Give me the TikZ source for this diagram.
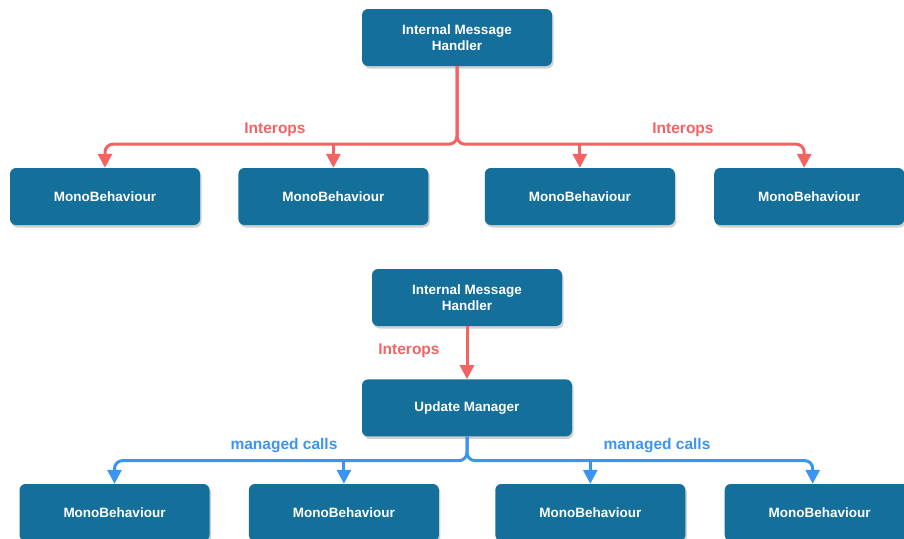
\documentclass[tikz,border=0pt]{standalone}
\usepackage{fontspec}
\setmainfont{Liberation Sans}
\usepackage{xcolor}
\usetikzlibrary{arrows.meta, positioning, shadows}

\definecolor{boxblue}{RGB}{20,111,155}
\definecolor{interred}{RGB}{243,99,99}
\definecolor{callblue}{RGB}{58,148,242}

\begin{document}
\begin{tikzpicture}[
    x=1pt, y=-1pt,
    block/.style={rectangle, rounded corners=6pt, fill=boxblue, text=white, align=center,
        minimum width=190pt, minimum height=57pt, inner sep=0pt,
        font=\fontsize{13.5}{16}\selectfont\bfseries,
        drop shadow={shadow xshift=1.5pt, shadow yshift=-2.5pt, fill=black!30, opacity=0.6}},
    lbl/.style={font=\fontsize{15.5}{18}\selectfont\bfseries},
    redlink/.style={interred, line width=3pt, rounded corners=8pt,
        -{Triangle[width=14pt, length=14pt]}},
    bluelink/.style={callblue, line width=3pt, rounded corners=8pt,
        -{Triangle[width=14pt, length=14pt]}}
]
\useasboundingbox (0,0) rectangle (904,538);

% Upper part: direct interop calls
\node[block] (ih1) at (457,37.5) {Internal Message\\Handler};
\node[block] (m1) at (105,196.5) {MonoBehaviour};
\node[block, right=38pt of m1] (m2) {MonoBehaviour};
\node[block, right=56pt of m2] (m3) {MonoBehaviour};
\node[block, right=39pt of m3] (m4) {MonoBehaviour};

\path (ih1.south) ++(0,78) coordinate (bus1);

\draw[redlink] (ih1.south) -- (bus1) -| (m1.north);
\draw[redlink] (ih1.south) -- (bus1) -| ([xshift=-5pt]m4.north);
\draw[redlink] (m2.north |- bus1) -- (m2.north);
\draw[redlink] (m3.north |- bus1) -- (m3.north);

\node[lbl, text=interred] (lbl1) at (275,130) {Interops};
\node[lbl, text=interred] (lbl2) at (683,130) {Interops};

% Lower part: through the update manager
\node[block] (ih2) at (467,297.5) {Internal Message\\Handler};
\node[block, minimum width=210pt, below=53pt of ih2] (um) {Update Manager};
\node[block] (n1) at (114.5,512.5) {MonoBehaviour};
\node[block, right=39pt of n1] (n2) {MonoBehaviour};
\node[block, right=56pt of n2] (n3) {MonoBehaviour};
\node[block, right=39pt of n3] (n4) {MonoBehaviour};

\draw[redlink] (ih2.south) -- (um.north);
\node[lbl, text=interred] (lbl3) at (409,351) {Interops};

\path (um.south) ++(0,24) coordinate (bus2);

\draw[bluelink] (um.south) -- (bus2) -| (n1.north);
\draw[bluelink] (um.south) -- (bus2) -| ([xshift=-7pt]n4.north);
\draw[bluelink] (n2.north |- bus2) -- (n2.north);
\draw[bluelink] (n3.north |- bus2) -- (n3.north);

\node[lbl, text=callblue] (lbl4) at (284,446) {managed calls};
\node[lbl, text=callblue] (lbl5) at (657,446) {managed calls};

\end{tikzpicture}
\end{document}
